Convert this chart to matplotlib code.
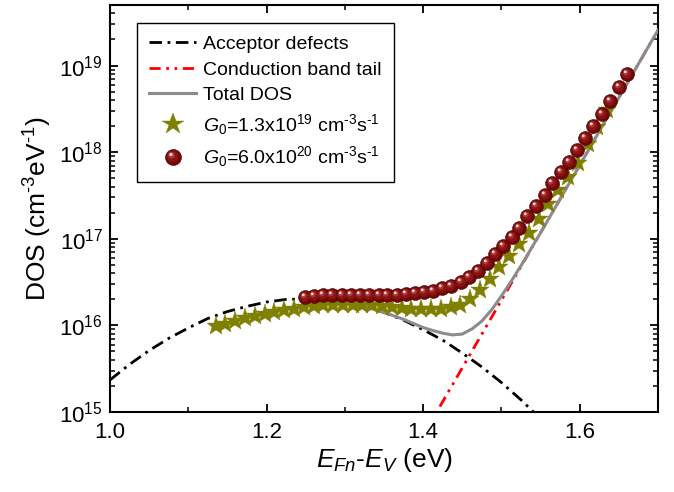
import numpy as np
import matplotlib
matplotlib.use("Agg")
import matplotlib.pyplot as plt
from matplotlib.path import Path
from matplotlib.ticker import MultipleLocator, LogLocator
from matplotlib.legend_handler import HandlerTuple

plt.rcParams['font.family'] = ['Liberation Sans', 'DejaVu Sans']
plt.rcParams['mathtext.fontset'] = 'custom'
plt.rcParams['mathtext.rm'] = 'Liberation Sans'
plt.rcParams['mathtext.it'] = 'Liberation Sans:italic'
plt.rcParams['mathtext.bf'] = 'Liberation Sans:bold'

# acceptor defects (black dash-dot), log10 DOS
acc_x = [1.000, 1.025, 1.050, 1.075, 1.100, 1.125, 1.150, 1.175, 1.200, 1.225, 1.250,
         1.275, 1.300, 1.325, 1.350, 1.375, 1.400, 1.425, 1.450, 1.475, 1.500, 1.525, 1.550]
acc_log = [15.37, 15.55, 15.71, 15.85, 15.97, 16.08, 16.16, 16.22, 16.27, 16.30, 16.305,
           16.29, 16.26, 16.22, 16.15, 16.06, 15.95, 15.83, 15.68, 15.52, 15.34, 15.14, 14.92]

# conduction band tail (red dash-dot-dot)
cbt_x = [1.40, 1.45, 1.50, 1.55, 1.60, 1.65, 1.70]
cbt_log = [14.73, 15.51, 16.29, 17.07, 17.85, 18.63, 19.41]

# total DOS (gray)
tot_x = [1.250, 1.275, 1.300, 1.325, 1.350, 1.375, 1.400, 1.4125, 1.425, 1.4375, 1.450,
         1.4625, 1.475, 1.4875, 1.500, 1.5125, 1.525, 1.550, 1.575, 1.600, 1.625,
         1.650, 1.675, 1.700]
tot_log = [16.305, 16.29, 16.26, 16.22, 16.15, 16.07, 15.975, 15.94, 15.91, 15.89, 15.90,
           15.96, 16.05, 16.18, 16.34, 16.51, 16.69, 17.07, 17.46, 17.85, 18.24,
           18.63, 19.02, 19.41]

# G0 = 1.3e19 (stars)
star_x = [1.1350, 1.1475, 1.1600, 1.1725, 1.1850, 1.1975, 1.2100, 1.2225, 1.2350, 1.2475,
          1.2600, 1.2725, 1.2850, 1.2975, 1.3100, 1.3225, 1.3350, 1.3475, 1.3600, 1.3725,
          1.3850, 1.3975, 1.4100, 1.4225, 1.4350, 1.4475, 1.4600, 1.4725, 1.4850, 1.4975,
          1.5100, 1.5225, 1.5350, 1.5475, 1.5600, 1.5725, 1.5850, 1.5975, 1.6100, 1.6225,
          1.6350]
star_log = [15.99, 16.02, 16.05, 16.08, 16.11, 16.135, 16.16, 16.18, 16.195, 16.21,
            16.22, 16.23, 16.235, 16.24, 16.24, 16.235, 16.23, 16.22, 16.21, 16.20,
            16.19, 16.185, 16.185, 16.19, 16.21, 16.24, 16.30, 16.41, 16.53, 16.67,
            16.80, 16.94, 17.07, 17.23, 17.40, 17.56, 17.71, 17.88, 18.10, 18.29,
            18.49]

# G0 = 6.0e20 (balls)
ball_x = [1.249, 1.261, 1.272, 1.284, 1.296, 1.308, 1.319, 1.331, 1.343, 1.354,
          1.366, 1.378, 1.389, 1.401, 1.413, 1.424, 1.436, 1.448, 1.459, 1.470,
          1.481, 1.492, 1.502, 1.513, 1.523, 1.533, 1.544, 1.555, 1.565, 1.576,
          1.586, 1.596, 1.607, 1.617, 1.628, 1.639, 1.650, 1.661]
ball_log = [16.33, 16.34, 16.35, 16.35, 16.35, 16.35, 16.35, 16.35, 16.35, 16.35,
            16.355, 16.36, 16.37, 16.38, 16.40, 16.43, 16.46, 16.50, 16.56, 16.63,
            16.72, 16.83, 16.92, 17.02, 17.13, 17.26, 17.38, 17.51, 17.64, 17.77,
            17.89, 18.03, 18.16, 18.30, 18.44, 18.59, 18.75, 18.90]


def blob(cx, cy, r):
    # offset disc inside a unit box, used as a marker layer for the shaded balls
    c = Path.unit_circle()
    frame = Path([(-1, -1), (1, 1)], [Path.MOVETO, Path.MOVETO])
    return Path.make_compound_path(frame, Path(c.vertices * r + [cx, cy], c.codes))


fig = plt.figure(figsize=(6.74, 4.92), dpi=100)
ax = fig.add_axes([0.1632, 0.1626, 0.8131, 0.8272])

ax.plot(acc_x, 10 ** np.array(acc_log), color='black', lw=2, dashes=(4.5, 2, 1, 2),
        label='Acceptor defects', zorder=2)
ax.plot(cbt_x, 10 ** np.array(cbt_log), color='red', lw=2, dashes=(4, 2, 1, 2, 1, 2),
        label='Conduction band tail', zorder=2)
ax.plot(tot_x, 10 ** np.array(tot_log), color='#8c8c8c', lw=2.2, label='Total DOS', zorder=3)

st, = ax.plot(star_x, 10 ** np.array(star_log), ls='none', marker='*', ms=14,
              color='#808000', mec='#808000', mew=0.3, zorder=4)

ms_ball = 10
layers = [('o', '#720606', 0.4, '#4a0000'),
          (blob(-0.12, 0.12, 0.72), '#8a1414', 0, 'none'),
          (blob(-0.25, 0.28, 0.42), '#a83838', 0, 'none'),
          (blob(-0.32, 0.38, 0.2), '#f4d8d8', 0, 'none')]
ball_handles = []
for i, (mk, col, mew, mec) in enumerate(layers):
    h, = ax.plot(ball_x, 10 ** np.array(ball_log), ls='none', marker=mk, ms=ms_ball,
                 color=col, mew=mew, mec=mec, zorder=5 + i * 0.1)
    ball_handles.append(h)

ax.set_yscale('log')
ax.set_xlim(1.0, 1.7)
ax.set_ylim(1e15, 5e19)
ax.xaxis.set_major_locator(MultipleLocator(0.2))
ax.xaxis.set_minor_locator(MultipleLocator(0.1))
ax.yaxis.set_minor_locator(LogLocator(subs=np.arange(2, 10), numticks=20))
ax.xaxis.set_major_formatter(plt.FormatStrFormatter('%.1f'))

ax.tick_params(which='both', direction='in', top=True, right=True)
ax.tick_params(which='major', length=6, width=1.3)
ax.tick_params(which='minor', length=3.5, width=1.1)
ax.tick_params(axis='x', pad=7, labelsize=16)
ax.tick_params(axis='y', pad=5, labelsize=16)
for s in ax.spines.values():
    s.set_linewidth(1.5)

ax.set_xlabel(r'$E_{Fn}$-$E_V$ (eV)', fontsize=19, labelpad=2)
ax.set_ylabel(r'DOS (cm$^{‐3}$eV$^{‐1}$)', fontsize=19, labelpad=4)

handles, labels = ax.get_legend_handles_labels()
handles += [st, tuple(ball_handles)]
labels += [r'$G_{\mathit{0}}$=1.3x10$^{19}$ cm$^{‐3}$s$^{‐1}$',
           r'$G_{\mathit{0}}$=6.0x10$^{20}$ cm$^{‐3}$s$^{‐1}$']
leg = ax.legend(handles, labels, loc='upper left', bbox_to_anchor=(0.049, 0.956),
                borderaxespad=0, fontsize=14, handlelength=2.4, handletextpad=0.35,
                labelspacing=0.4, borderpad=0.65, fancybox=False, edgecolor='black',
                framealpha=1, markerscale=1.15, numpoints=1,
                handler_map={tuple: HandlerTuple(ndivide=1)})
leg.get_frame().set_linewidth(1.0)

fig.savefig('out.png', dpi=100)
